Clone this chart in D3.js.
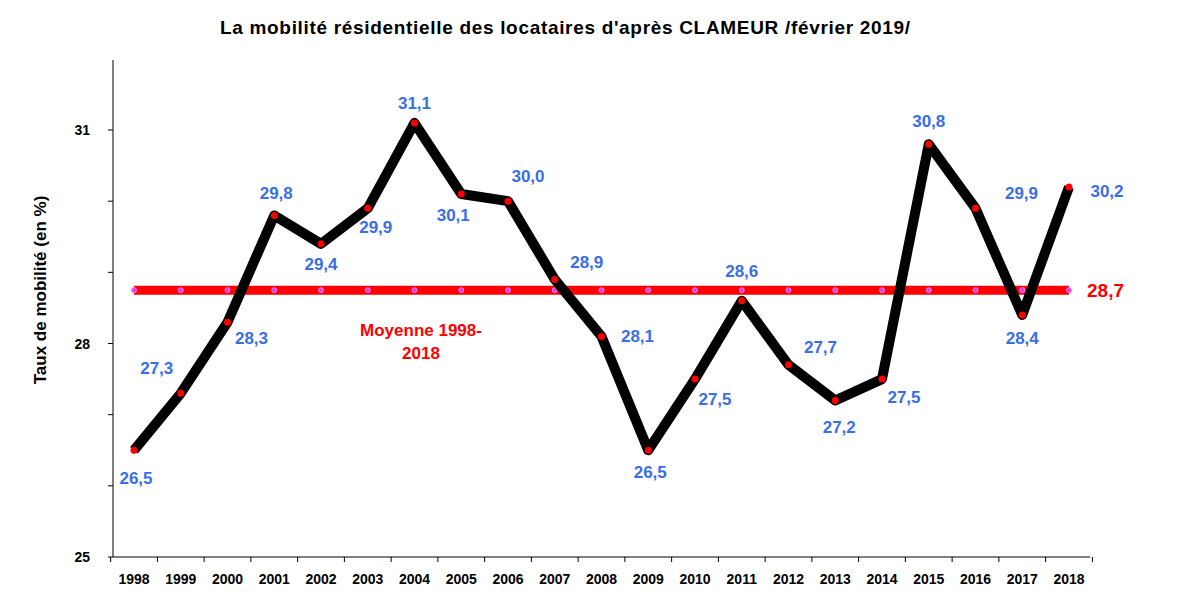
<!DOCTYPE html>
<html><head><meta charset="utf-8">
<script src="https://cdn.jsdelivr.net/npm/d3@7"></script>
<style>body{margin:0;background:#fff}text{font-family:"Liberation Sans",Arial,sans-serif}</style>
</head><body><svg id="c" width="1196" height="601"></svg>
<script>
// ----------- Data ------------
const years = [1998,1999,2000,2001,2002,2003,2004,2005,2006,2007,2008,2009,2010,2011,2012,2013,2014,2015,2016,2017,2018];
const rates = [26.5,27.3,28.3,29.8,29.4,29.9,31.1,30.1,30.0,28.9,28.1,26.5,27.5,28.6,27.7,27.2,27.5,30.8,29.9,28.4,30.2];
const meanValue = 28.75;
const meanLabel = "28,7";
const yLabelTicks = [25, 28, 31];
// label placement per point (offset dx, dy in px)
const labelPos = [[2,28],[-24,-25],[24,16],[2,-22],[0,20],[8,19],[0,-20],[-8,21],[20,-25],[32,-17],[36,0],[2,22],[20,20],[0,-30],[32,-18],[4,27],[22,18],[0,-23],[46,-15],[0,23],[38,4]];

const svg = d3.select("#c");
const x = d3.scalePoint().domain(years).range([134, 1069]);
const y = d3.scaleLinear().domain([25, 31]).range([557, 130]);

svg.append("text").attr("x", 565).attr("y", 34).attr("text-anchor", "middle")
  .style("font-size", "19px").style("font-weight", "bold").attr("textLength", 690)
  .text("La mobilité résidentielle  des locataires d'après CLAMEUR /février 2019/");

// axes
svg.append("line").attr("x1", 113).attr("x2", 113).attr("y1", 60).attr("y2", 557).attr("stroke", "#000");
svg.append("line").attr("x1", 113).attr("x2", 1090).attr("y1", 557).attr("y2", 557).attr("stroke", "#000");
d3.range(25, 32).forEach(v => {
  svg.append("line").attr("x1", 108).attr("x2", 113).attr("y1", y(v)).attr("y2", y(v)).attr("stroke", "#000");
});
yLabelTicks.forEach(v => {
  svg.append("text").attr("x", 90).attr("y", y(v) + 5).attr("text-anchor", "end")
    .style("font-size", "14px").style("font-weight", "bold").text(v);
});
const step = x.step();
years.forEach(yr => {
  svg.append("line").attr("x1", x(yr) - step / 2).attr("x2", x(yr) - step / 2).attr("y1", 557).attr("y2", 562).attr("stroke", "#000");
  svg.append("text").attr("x", x(yr)).attr("y", 584).attr("text-anchor", "middle")
    .style("font-size", "14px").style("font-weight", "bold").text(yr);
});
svg.append("line").attr("x1", x(2018) + step / 2).attr("x2", x(2018) + step / 2).attr("y1", 557).attr("y2", 562).attr("stroke", "#000");

svg.append("text").attr("transform", "translate(46,290) rotate(-90)").attr("text-anchor", "middle")
  .style("font-size", "17px").style("font-weight", "bold").text("Taux de mobilité (en %)");

// mean line
svg.append("line").attr("x1", x(1998)).attr("x2", x(2018)).attr("y1", y(meanValue)).attr("y2", y(meanValue))
  .attr("stroke", "#ff0000").attr("stroke-width", 9);
svg.selectAll(".md").data(years).enter().append("circle")
  .attr("cx", d => x(d)).attr("cy", y(meanValue)).attr("r", 2.5).attr("fill", "#e040e0").attr("stroke", "#ff80ff");
svg.append("text").attr("x", 1087).attr("y", y(meanValue) + 7).style("font-size", "19px").style("font-weight", "bold")
  .attr("fill", "#ff0000").text(meanLabel);
const ml = svg.append("text").attr("text-anchor", "middle").attr("fill", "#ff0000")
  .style("font-size", "17px").style("font-weight", "bold");
ml.append("tspan").attr("x", 421).attr("y", 336).text("Moyenne 1998-");
ml.append("tspan").attr("x", 421).attr("y", 359).text("2018");

// series
const line = d3.line().x((d, i) => x(years[i])).y(d => y(d));
svg.append("path").attr("d", line(rates)).attr("fill", "none").attr("stroke", "#000")
  .attr("stroke-width", 10).attr("stroke-linejoin", "round");
svg.selectAll(".pt").data(rates).enter().append("circle")
  .attr("cx", (d, i) => x(years[i])).attr("cy", d => y(d)).attr("r", 3.5).attr("fill", "#ff0000");
svg.selectAll(".lb").data(rates).enter().append("text")
  .attr("x", (d, i) => x(years[i]) + labelPos[i][0])
  .attr("y", (d, i) => y(d) + labelPos[i][1] + 6)
  .attr("text-anchor", "middle").attr("fill", "#3a6ee8")
  .style("font-size", "17px").style("font-weight", "bold")
  .text(d => d.toFixed(1).replace(".", ","));
</script></body></html>
